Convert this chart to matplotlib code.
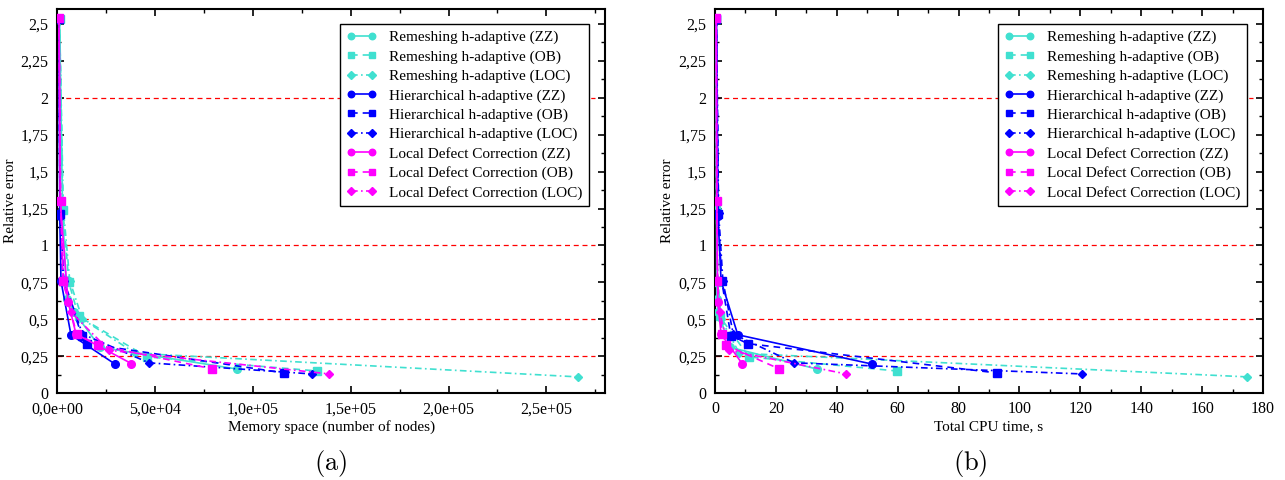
import matplotlib
matplotlib.use("Agg")
import matplotlib.pyplot as plt
from matplotlib.ticker import FuncFormatter, MultipleLocator

plt.rcParams['font.family'] = ['Liberation Serif', 'DejaVu Serif']
plt.rcParams['mathtext.fontset'] = 'cm'

# relative error for each run (shared by both panels)
rem_zz_err = [2.53, 1.24, 0.64, 0.55, 0.31, 0.163]
rem_ob_err = [2.53, 1.24, 0.75, 0.52, 0.245, 0.15]
rem_loc_err = [2.53, 1.25, 0.76, 0.50, 0.27, 0.11]
hier_zz_err = [2.53, 1.20, 0.76, 0.395, 0.197]
hier_ob_err = [2.53, 1.21, 0.76, 0.39, 0.335, 0.137]
hier_loc_err = [2.53, 1.22, 0.76, 0.40, 0.205, 0.13]
ldc_zz_err = [2.54, 1.30, 0.62, 0.40, 0.20]
ldc_ob_err = [2.54, 1.30, 0.76, 0.40, 0.325, 0.165]
ldc_loc_err = [2.54, 1.30, 0.76, 0.55, 0.29, 0.13]

# memory space (number of nodes)
rem_zz_nodes = [1300, 2800, 5000, 8700, 22000, 92000]
rem_ob_nodes = [1300, 3000, 6000, 11000, 46000, 133000]
rem_loc_nodes = [1300, 3200, 6500, 13000, 40000, 266000]
hier_zz_nodes = [900, 1400, 2000, 7100, 29600]
hier_ob_nodes = [900, 1500, 3000, 12700, 15300, 116000]
hier_loc_nodes = [900, 1600, 3500, 13000, 47000, 130000]
ldc_zz_nodes = [1000, 1600, 5600, 9700, 38000]
ldc_ob_nodes = [1000, 1800, 3000, 10000, 21000, 79000]
ldc_loc_nodes = [1000, 1800, 3200, 7000, 26600, 139000]

# total CPU time, s
rem_zz_cpu = [0.3, 0.5, 0.6, 1.0, 5.0, 33.5]
rem_ob_cpu = [0.3, 0.5, 0.8, 1.5, 11.2, 59.7]
rem_loc_cpu = [0.3, 0.6, 1.0, 2.0, 8.0, 174.8]
hier_zz_cpu = [0.5, 1.0, 2.0, 7.5, 51.5]
hier_ob_cpu = [0.5, 1.1, 2.2, 5.2, 10.8, 92.5]
hier_loc_cpu = [0.5, 1.2, 2.6, 6.0, 26.0, 120.4]
ldc_zz_cpu = [0.4, 0.6, 0.9, 2.0, 8.9]
ldc_ob_cpu = [0.4, 0.6, 0.8, 2.3, 3.6, 21.0]
ldc_loc_cpu = [0.4, 0.6, 0.8, 1.5, 4.6, 43.0]

ref_levels = [0.25, 0.5, 1, 2]

cyan = "#40e0d0"
blue = "#0000ff"
mag = "#ff00ff"

series = [
    ("Remeshing h-adaptive (ZZ)", rem_zz_nodes, rem_zz_cpu, rem_zz_err, cyan, "-", "o"),
    ("Remeshing h-adaptive (OB)", rem_ob_nodes, rem_ob_cpu, rem_ob_err, cyan, (0, (4, 3)), "s"),
    ("Remeshing h-adaptive (LOC)", rem_loc_nodes, rem_loc_cpu, rem_loc_err, cyan, (0, (4, 2, 1, 2)), "D"),
    ("Hierarchical h-adaptive (ZZ)", hier_zz_nodes, hier_zz_cpu, hier_zz_err, blue, "-", "o"),
    ("Hierarchical h-adaptive (OB)", hier_ob_nodes, hier_ob_cpu, hier_ob_err, blue, (0, (4, 3)), "s"),
    ("Hierarchical h-adaptive (LOC)", hier_loc_nodes, hier_loc_cpu, hier_loc_err, blue, (0, (4, 2, 1, 2)), "D"),
    ("Local Defect Correction (ZZ)", ldc_zz_nodes, ldc_zz_cpu, ldc_zz_err, mag, "-", "o"),
    ("Local Defect Correction (OB)", ldc_ob_nodes, ldc_ob_cpu, ldc_ob_err, mag, (0, (4, 3)), "s"),
    ("Local Defect Correction (LOC)", ldc_loc_nodes, ldc_loc_cpu, ldc_loc_err, mag, (0, (4, 2, 1, 2)), "D"),
]


def comma(v, pos):
    s = "%g" % round(v, 4)
    return s.replace(".", ",")


def sci_comma(v, pos):
    return ("%.1e" % v).replace(".", ",")


fig = plt.figure(figsize=(12.85, 4.8), dpi=100)
ax1 = fig.add_axes([0.0444, 0.181, 0.4265, 0.8])
ax2 = fig.add_axes([0.5564, 0.181, 0.4265, 0.8])

for ax, idx in ((ax1, 1), (ax2, 2)):
    for lev in ref_levels:
        ax.axhline(lev, xmin=0, xmax=0.982, color="red", lw=0.9, ls=(0, (4, 3)), zorder=1)
    for s in series:
        ms = 5.5 if s[6] != "D" else 4.5
        ax.plot(s[idx], s[3], color=s[4], ls=s[5], marker=s[6], ms=ms, lw=1.2,
                label=s[0], zorder=3)
    ax.set_ylim(0, 2.6)
    ax.yaxis.set_major_locator(MultipleLocator(0.25))
    ax.yaxis.set_minor_locator(MultipleLocator(0.125))
    ax.yaxis.set_major_formatter(FuncFormatter(comma))
    ax.set_ylabel("Relative error", fontsize=11, labelpad=3)
    ax.tick_params(which="both", direction="in", top=True, right=True, labelsize=11.5)
    ax.tick_params(which="major", length=5, width=1.2)
    ax.tick_params(which="minor", length=3, width=1.0)
    ax.tick_params(axis="y", pad=6)
    ax.tick_params(axis="x", pad=6)
    for sp in ax.spines.values():
        sp.set_linewidth(1.5)
    leg = ax.legend(loc="upper right", bbox_to_anchor=(0.97, 0.96), fontsize=11,
                    fancybox=False, edgecolor="black", framealpha=1, numpoints=2,
                    markerscale=0.85, handlelength=2.0, labelspacing=0.36,
                    borderpad=0.4, borderaxespad=0)
    leg.get_frame().set_linewidth(1.0)

ax1.set_xlim(0, 2.8e5)
ax1.xaxis.set_major_locator(MultipleLocator(5e4))
ax1.xaxis.set_minor_locator(MultipleLocator(2.5e4))
ax1.xaxis.set_major_formatter(FuncFormatter(sci_comma))
ax1.set_xlabel("Memory space (number of nodes)", fontsize=11, labelpad=2)

ax2.set_xlim(0, 180)
ax2.xaxis.set_major_locator(MultipleLocator(20))
ax2.xaxis.set_minor_locator(MultipleLocator(10))
ax2.set_xlabel("Total CPU time, s", fontsize=11, labelpad=2)

fig.text(0.257, 0.035, r"$\mathrm{(a)}$", ha="center", va="center", fontsize=19)
fig.text(0.755, 0.035, r"$\mathrm{(b)}$", ha="center", va="center", fontsize=19)

fig.savefig("out.png", dpi=100)
